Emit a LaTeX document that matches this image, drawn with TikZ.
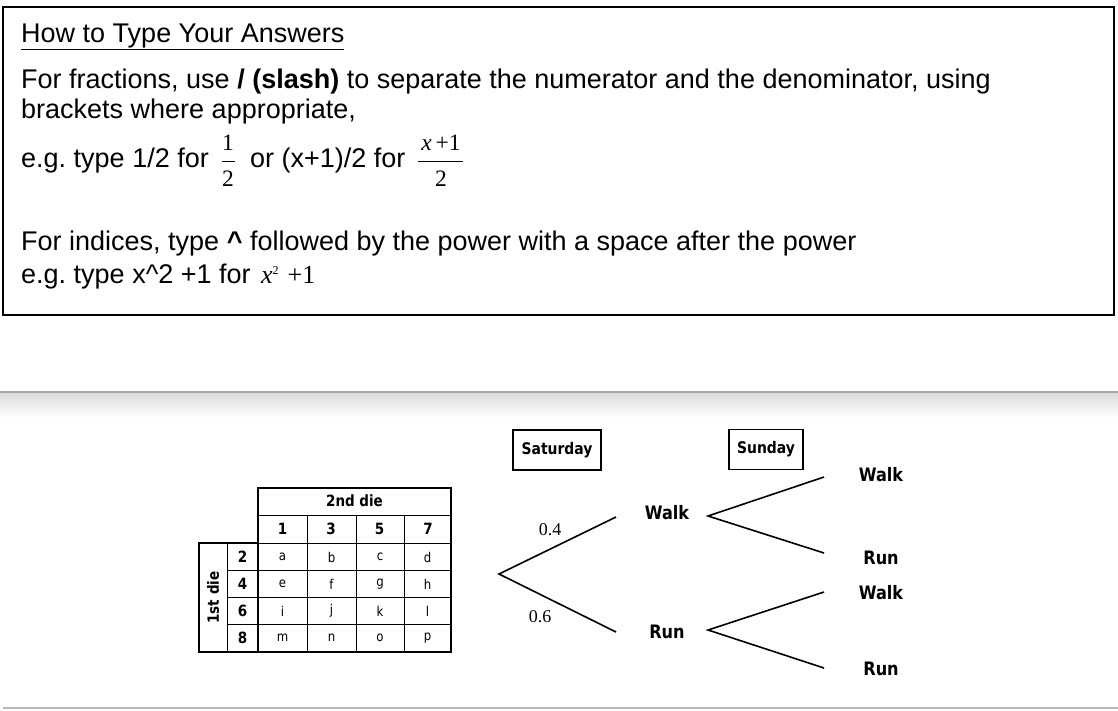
\documentclass[tikz,border=0pt]{standalone}
\usepackage{fontspec}
\setmainfont{Liberation Sans}
\newfontfamily\tnr{Liberation Serif}
\newfontfamily\vsans[FakeStretch=0.87]{DejaVu Sans}
\usetikzlibrary{positioning}
\tikzset{
  txt/.style={anchor=base west, inner sep=0pt, font=\fontsize{27}{30}\selectfont},
  fr/.style={anchor=base, inner sep=0pt, font=\tnr\fontsize{23.5}{26}\selectfont},
  daybox/.style={draw, line width=1.3pt, inner sep=0pt, minimum height=40pt,
    font=\vsans\bfseries\fontsize{16}{18}\selectfont},
  lbl/.style={inner sep=0pt, font=\vsans\bfseries\fontsize{18.5}{20}\selectfont},
  prob/.style={inner sep=0pt, font=\tnr\fontsize{18}{20}\selectfont},
  branch/.style={line width=1.6pt},
  cell/.style={inner sep=0pt, font=\vsans\fontsize{13.5}{15}\selectfont},
  head/.style={inner sep=0pt, font=\vsans\bfseries\fontsize{15.5}{17}\selectfont},
  thin/.style={line width=0.9pt},
  thick3/.style={line width=2.8pt},
}

\begin{document}
\frenchspacing
\begin{tikzpicture}[x=1pt, y=-1pt]
  \useasboundingbox (0,0) rectangle (1118,710);

  % instructions box
  \draw[line width=1.6pt] (3,7) rectangle (1114,315);
  \node[txt] (title) at (21,42) {\underline{How to Type Your Answers}};
  \node[txt] (frac1) at (21,88) {For fractions, use \textbf{/ (slash)} to separate the numerator and the denominator, using};
  \node[txt] (frac2) at (21,118) {brackets where appropriate,};
  \node[txt] (frac3) at (21,167) {e.g. type 1/2 for};
  \node[fr] (num1) at (228,150) {1};
  \node[fr] (den1) at (228,186) {2};
  \draw[line width=0.8pt] (222,161) -- (235,161);
  \node[txt] (frac4) at (250,167) {or (x+1)/2 for};
  \node[fr] (num2) at (441,150) {\textit{x}\,+1};
  \node[fr] (den2) at (441,186) {2};
  \draw[line width=0.8pt] (418,161) -- (463,161);
  \node[txt] (ind1) at (21,250) {For indices, type \textbf{\^{}} followed by the power with a space after the power};
  \node[txt] (ind2) at (21,283) {e.g. type x\^{}2 +1 for};
  \node[fr, right=10pt of ind2.base east, anchor=base west, font=\tnr\fontsize{26}{28}\selectfont]
    (pow) {\textit{x}\raisebox{9pt}{\fontsize{12}{13}\selectfont 2}\hspace{9pt}+1};

  % page break
  \shade[top color=black!14, bottom color=white] (0,393) rectangle (1118,418);
  \draw[gray!70, line width=1.5pt] (0,392) -- (1118,392);
  \draw[gray!55, line width=1.5pt] (3,708) -- (1118,708);

  % dice table
  \draw[thin] (258,515) -- (451,515);
  \draw[thin] (258,543) -- (451,543);
  \foreach \y in {570,597,624}
    \draw[thin] (227,\y) -- (451,\y);
  \foreach \x in {307,356,404}
    \draw[thin] (\x,515) -- (\x,652);
  \draw[thin] (227,543) -- (227,652);
  \draw[thick3] (258,488) -- (451,488) -- (451,652) -- (199,652) -- (199,543) -- (258,543) -- cycle;
  \draw[thick3] (258,543) -- (258,652);
  \node[head] (second) at (354.5,501) {2nd die};
  \node[head, rotate=90] (first) at (213,597.5) {1st die};
  \foreach \c [count=\i] in {1,3,5,7}
    \node[head] (col-\i) at ({282.5+48.5*(\i-1)},529) {\c};
  \foreach \r [count=\j] in {2,4,6,8}
    \node[head] (row-\j) at (242.5,{557+27*(\j-1)}) {\r};
  \foreach \a/\b/\c/\d [count=\j] in {a/b/c/d, e/f/g/h, i/j/k/l, m/n/o/p} {
    \node[cell] (c-\j-1) at (282.5,{557+27*(\j-1)}) {\a};
    \node[cell] (c-\j-2) at (331.5,{557+27*(\j-1)}) {\b};
    \node[cell] (c-\j-3) at (380,{557+27*(\j-1)}) {\c};
    \node[cell] (c-\j-4) at (427.5,{557+27*(\j-1)}) {\d};
  }

  % tree diagram
  \node[daybox, minimum width=88pt] (sat) at (557,450) {Saturday};
  \node[daybox, minimum width=74pt] (sun) at (766,449.5) {Sunday};
  \coordinate (root) at (499,574);
  \coordinate (w-in) at (616,517);
  \coordinate (r-in) at (616,632);
  \node[lbl] (walk) at (667,513) {Walk};
  \node[lbl] (run) at (667,632) {Run};
  \coordinate (w-out) at (708,516);
  \coordinate (r-out) at (708,630);
  \coordinate (ww) at (824,477);
  \coordinate (wr) at (824,553);
  \coordinate (rw) at (824,592);
  \coordinate (rr) at (824,668);
  \node[lbl] (walk-walk) at (881,475) {Walk};
  \node[lbl] (walk-run) at (881,558) {Run};
  \node[lbl] (run-walk) at (881,593) {Walk};
  \node[lbl] (run-run) at (881,669) {Run};
  \draw[branch] (w-in) -- (root) -- (r-in);
  \draw[branch] (ww) -- (w-out) -- (wr);
  \draw[branch] (rw) -- (r-out) -- (rr);
  \node[prob] (p-walk) at (550,530) {0.4};
  \node[prob] (p-run) at (540,617) {0.6};
\end{tikzpicture}
\end{document}
